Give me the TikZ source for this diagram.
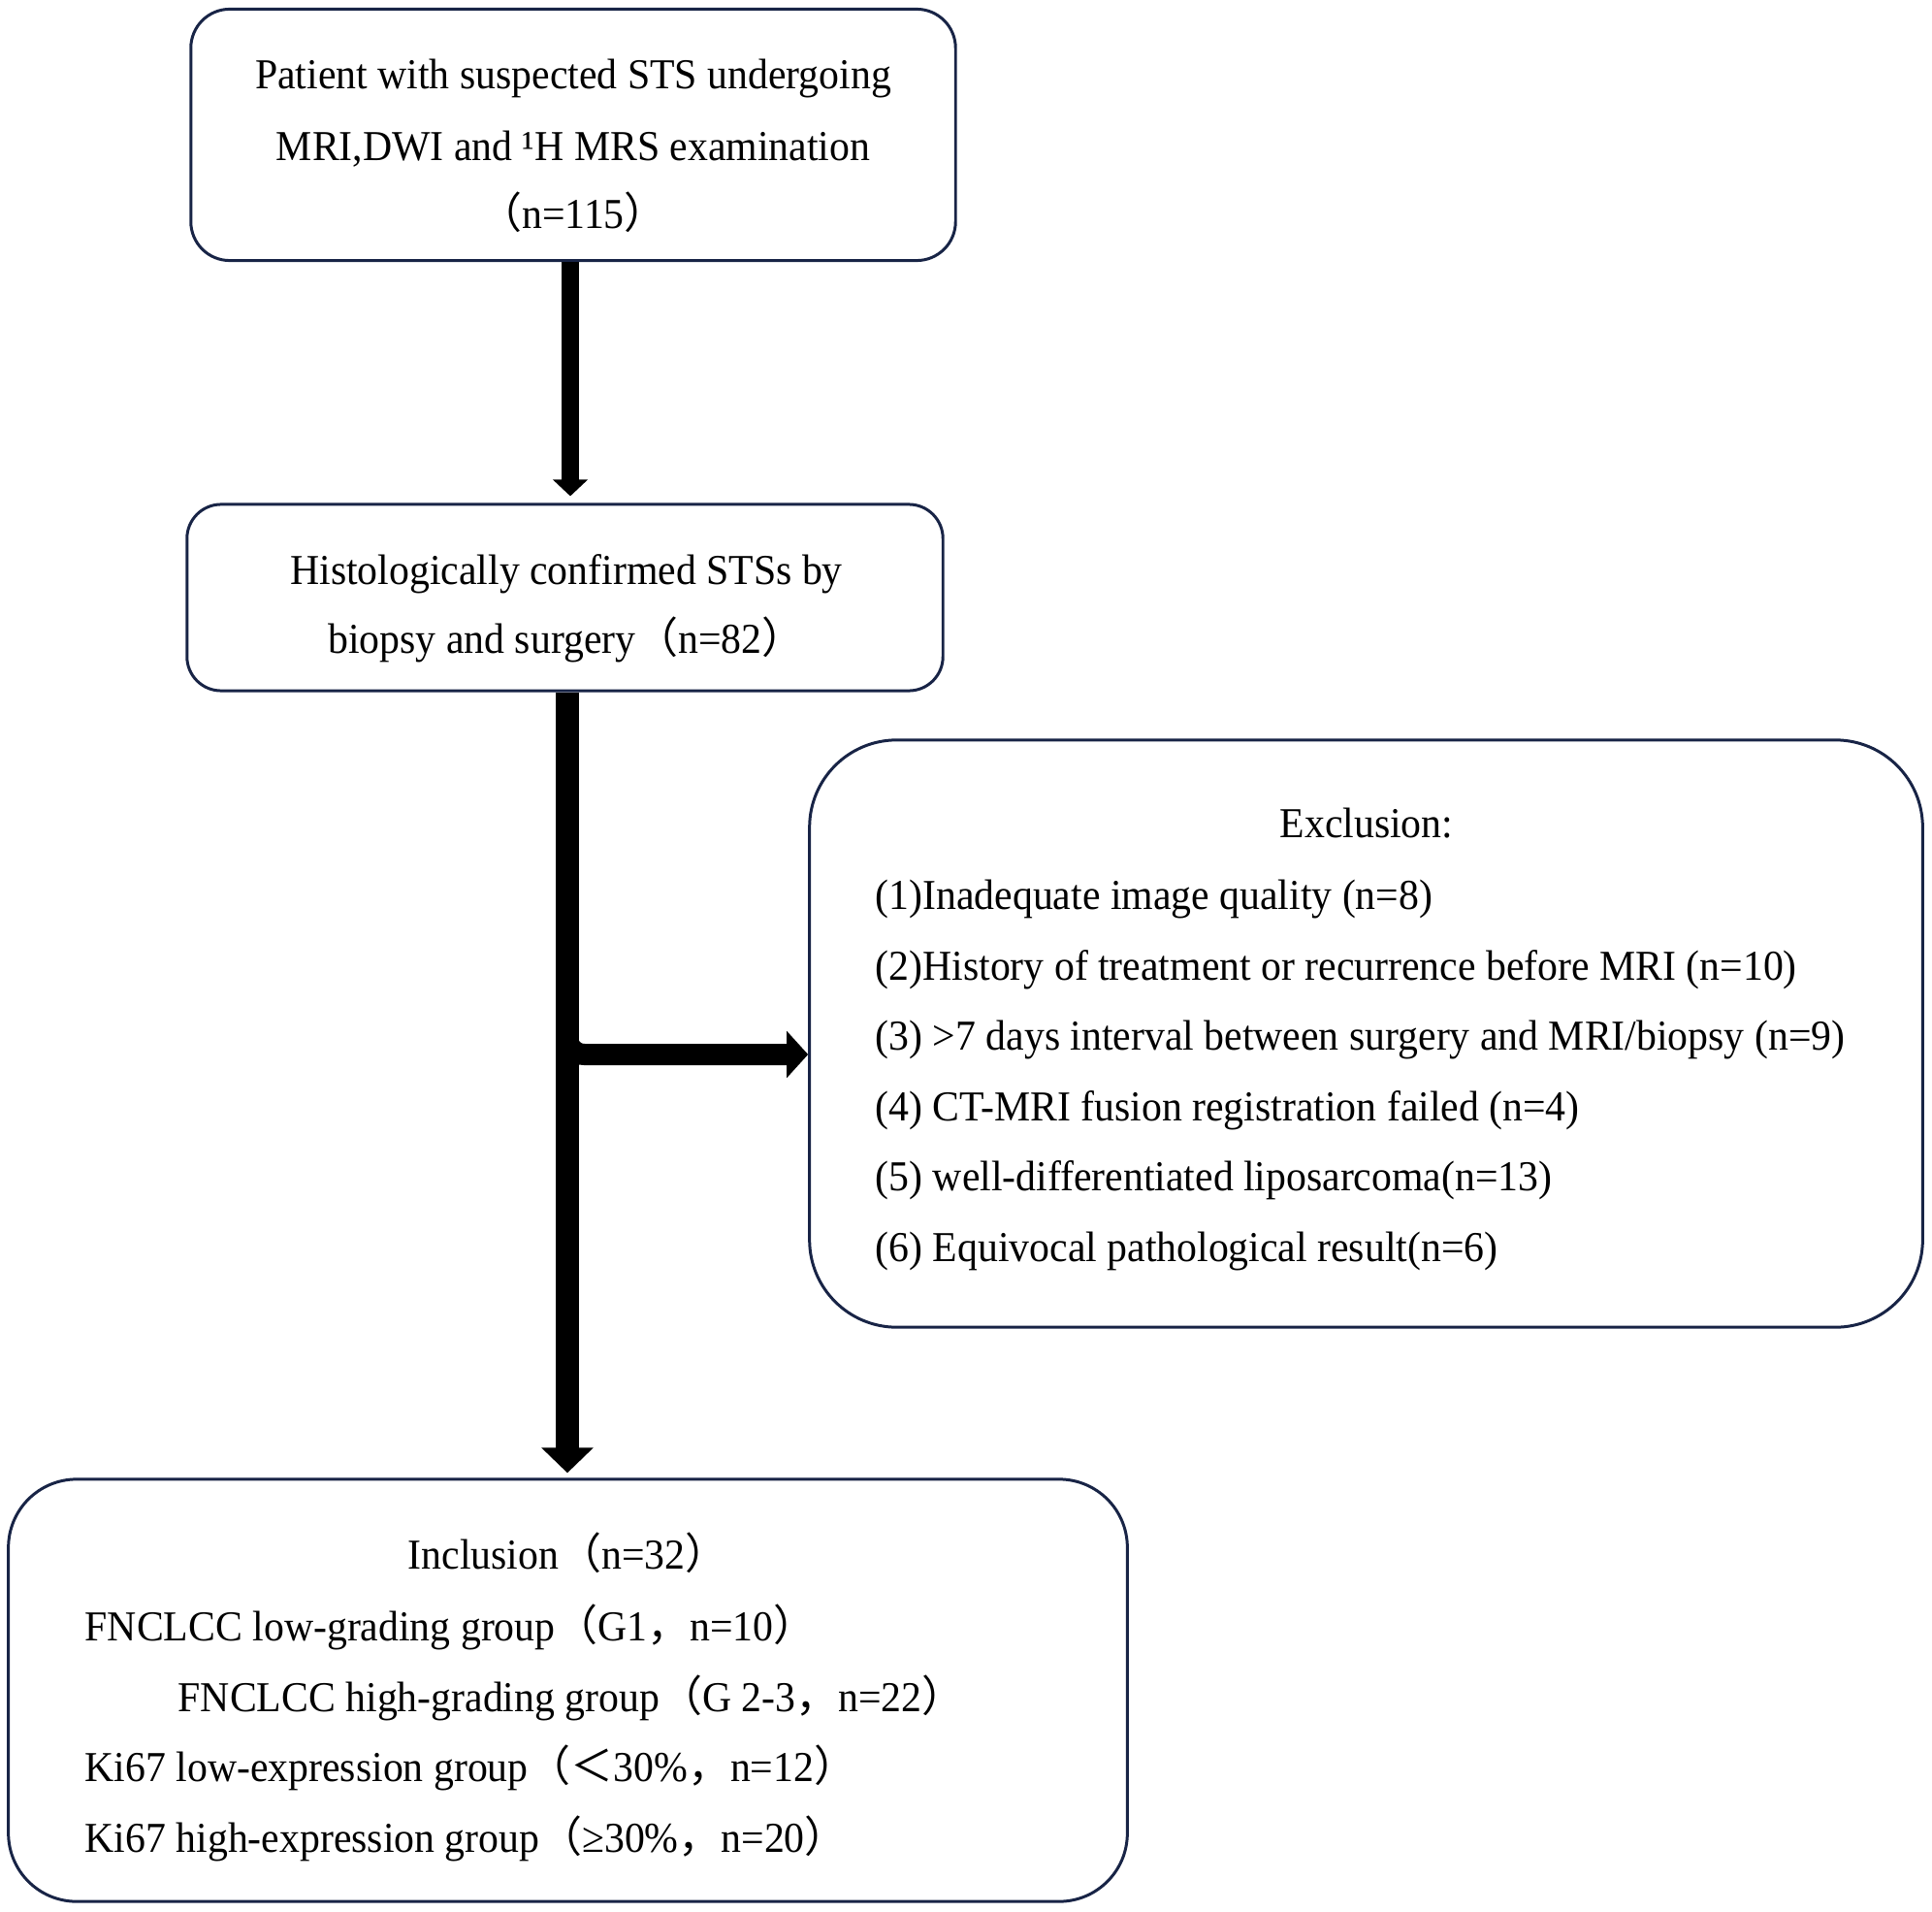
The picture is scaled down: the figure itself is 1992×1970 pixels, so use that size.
\documentclass[tikz,border=0pt]{standalone}
\usepackage{fontspec}
\setmainfont[FakeStretch=0.95]{Liberation Serif}
\newfontfamily\cjk{Noto Sans CJK SC}
\usetikzlibrary{arrows.meta,calc}
\definecolor{boxline}{RGB}{24,36,70}
\newcommand\zkl{{\cjk （}}
\newcommand\zkr{{\cjk ）}}
\newcommand\zdh{{\cjk ，}}
\newcommand\zlt{{\cjk ＜}}
\begin{document}
\begin{tikzpicture}[x=0.01cm,y=-0.01cm,
  box/.style={draw=boxline, line width=0.85pt, fill=white, inner sep=0pt},
  txt/.style={inner sep=0pt, font=\fontsize{12.5}{15}\selectfont},
  ctxt/.style={txt, anchor=base},
  ltxt/.style={txt, anchor=base west}]
\useasboundingbox (0,0) rectangle (1992,1970);
% boxes
\node[box, rounded corners=11.4pt, minimum width=7.88cm, minimum height=2.59cm] (b1) at (591,139) {};
\node[box, rounded corners=10pt, minimum width=7.79cm, minimum height=1.92cm] (b2) at (582.5,616) {};
\node[box, rounded corners=25.6pt, minimum width=11.47cm, minimum height=6.05cm] (b3) at (1408.5,1065.5) {};
\node[box, rounded corners=20pt, minimum width=11.53cm, minimum height=4.35cm] (b4) at (585.5,1742.5) {};
% connector guide coordinates
\coordinate (c1) at (588,0);
\coordinate (c2) at (585,0);
\coordinate (bs) at (585,1035);
\coordinate (br) at (585,1087);
% connectors
\draw[line width=5.12pt, -{Triangle[length=4.84pt,width=9.96pt]}]
  (c1 |- b1.south) -- ($(c1 |- b2.north)+(0,-7)$);
\draw[line width=6.83pt, -{Triangle[length=7.4pt,width=14.8pt]}]
  (c2 |- b2.south) -- ($(c2 |- b4.north)+(0,-5)$);
\draw[line width=6.26pt, rounded corners=5pt, -{Triangle[length=6.26pt,width=13.4pt]}]
  (bs) -- (br) -- (b3.west |- br);
% texts box 1
\node[ctxt] (t1a) at (591,92) {Patient with suspected STS undergoing};
\node[ctxt] (t1b) at (591,166) {MRI,DWI and ¹H MRS examination};
\node[ctxt] (t1c) at (591,236) {\zkl n=115\zkr};
% box 2
\node[ctxt] (t2a) at (584,602) {Histologically confirmed STSs by};
\node[ctxt] (t2b) at (584,673) {biopsy and surgery\zkl n=82\zkr};
% box 3
\node[ctxt] (t3) at (1409,863) {Exclusion:};
\node[ltxt] (e1) at (902,937) {(1)Inadequate image quality (n=8)};
\node[ltxt] (e2) at (902,1010) {(2)History of treatment or recurrence before MRI (n=10)};
\node[ltxt] (e3) at (902,1082) {(3) >7 days interval between surgery and MRI/biopsy (n=9)};
\node[ltxt] (e4) at (902,1155) {(4) CT-MRI fusion registration failed (n=4)};
\node[ltxt] (e5) at (902,1227) {(5) well-differentiated liposarcoma(n=13)};
\node[ltxt] (e6) at (902,1300) {(6) Equivocal pathological result(n=6)};
% box 4
\node[ctxt] (t4) at (585.5,1617) {Inclusion\zkl n=32\zkr};
\node[ltxt] (i1) at (87,1691) {FNCLCC low-grading group\zkl G1\zdh n=10\zkr};
\node[ltxt] (i2) at (183,1764) {FNCLCC high-grading group\zkl G 2-3\zdh n=22\zkr};
\node[ltxt] (i3) at (87,1836) {Ki67 low-expression group\zkl\zlt 30\%\zdh n=12\zkr};
\node[ltxt] (i4) at (87,1909) {Ki67 high-expression group\zkl ≥30\%\zdh n=20\zkr};
\end{tikzpicture}
\end{document}
